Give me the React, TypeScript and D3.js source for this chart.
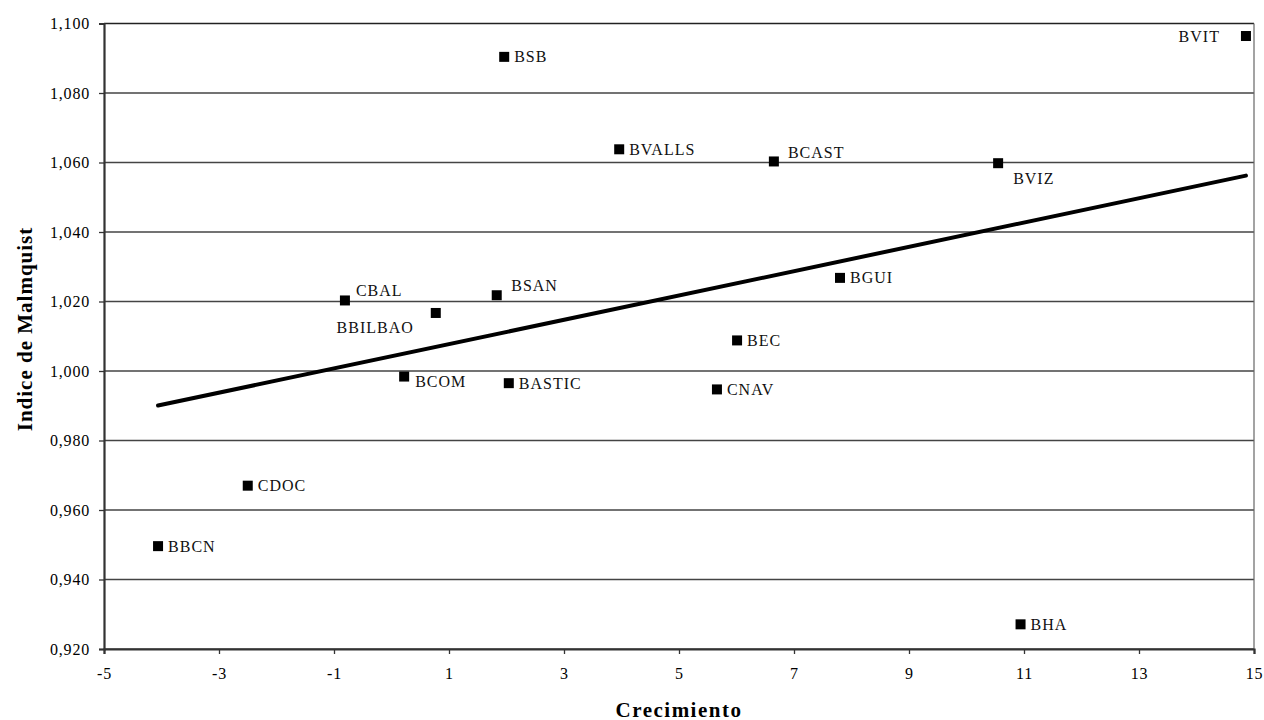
import React, { useEffect, useRef } from "react";
import * as d3 from "d3";

// bank codes, growth (x) and Malmquist index (y)
const banks = ["BVIT", "BSB", "BVALLS", "BCAST", "BVIZ", "BGUI", "CBAL", "BBILBAO", "BSAN", "BEC", "BCOM", "BASTIC", "CNAV", "CDOC", "BBCN", "BHA"];
const crecimiento = [14.86, 1.96, 3.96, 6.65, 10.55, 7.8, -0.81, 0.77, 1.83, 6.01, 0.22, 2.04, 5.66, -2.5, -4.06, 10.94];
const malmquist = [1.0964, 1.0904, 1.0638, 1.0603, 1.0598, 1.0268, 1.0203, 1.0167, 1.0218, 1.0088, 0.9984, 0.9965, 0.9947, 0.967, 0.9496, 0.9271];

const xTicks = [-5, -3, -1, 1, 3, 5, 7, 9, 11, 13, 15];
const yTicks = [0.92, 0.94, 0.96, 0.98, 1.0, 1.02, 1.04, 1.06, 1.08, 1.1];

const xTitle = "Crecimiento";
const yTitle = "Indice de Malmquist";

// where each label sits relative to its marker (default: right, centred)
const labelPlace: Record<string, { dx: number; dy: number; anchor?: string }> = {
  BVIT: { dx: -26, dy: 5.5, anchor: "end" },
  BCAST: { dx: 14, dy: -3.5 },
  BVIZ: { dx: 15, dy: 21 },
  CBAL: { dx: 11, dy: -4 },
  BBILBAO: { dx: -22, dy: 20.5, anchor: "end" },
  BSAN: { dx: 14.5, dy: -4 },
  BCOM: { dx: 11, dy: 10 },
};

const W = 1264, H = 720;
const margin = { top: 23.5, right: 10, bottom: 71, left: 104 };

export default function App() {
  const ref = useRef<SVGSVGElement>(null);

  useEffect(() => {
    const w = W - margin.left - margin.right;
    const h = H - margin.top - margin.bottom;
    const svg = d3.select(ref.current);
    svg.selectAll("*").remove();
    const g = svg.append("g").attr("transform", `translate(${margin.left},${margin.top})`);

    const x = d3.scaleLinear().domain([-5, 15]).range([0, w]);
    const y = d3.scaleLinear().domain([0.92, 1.1]).range([h, 0]);

    const locale = d3.formatLocale({ decimal: ",", thousands: ".", grouping: [3], currency: ["", "€"] });
    const fmtY = locale.format(".3f");

    const font = "'Liberation Serif', 'Times New Roman', serif";

    // grid lines
    g.selectAll(".grid")
      .data(yTicks)
      .join("line")
      .attr("x1", 0)
      .attr("x2", w)
      .attr("y1", (d) => y(d))
      .attr("y2", (d) => y(d))
      .attr("stroke", (d) => (d === 1.1 ? "#222" : "#444"))
      .attr("stroke-width", 1.3);

    // right border
    g.append("line")
      .attr("x1", w).attr("x2", w)
      .attr("y1", 0).attr("y2", h)
      .attr("stroke", "#666").attr("stroke-width", 1.2);

    // axes
    const yAxis = g.append("g").call(d3.axisLeft(y).tickValues(yTicks).tickSize(5).tickPadding(9).tickFormat((d) => fmtY(d as number)));
    const xAxis = g.append("g").attr("transform", `translate(0,${h})`)
      .call(d3.axisBottom(x).tickValues(xTicks).tickSize(5).tickPadding(14).tickFormat((d) => String(d)));

    [yAxis, xAxis].forEach((a) => {
      a.select(".domain").attr("stroke", "#333").attr("stroke-width", 2.2);
      a.selectAll(".tick line").attr("stroke", "#333").attr("stroke-width", 1.3);
      a.selectAll(".tick text")
        .attr("fill", "#000")
        .style("font-family", font)
        .style("font-size", "16px")
        .style("letter-spacing", "0.8px");
    });

    // trend line (least squares over the points)
    const mx = d3.mean(crecimiento) as number;
    const my = d3.mean(malmquist) as number;
    const sxy = d3.sum(crecimiento, (v, i) => (v - mx) * (malmquist[i] - my));
    const sxx = d3.sum(crecimiento, (v) => (v - mx) * (v - mx));
    const slope = sxy / sxx;
    const ext = d3.extent(crecimiento) as [number, number];
    const trend = ext.map((v) => [v, my + slope * (v - mx)] as [number, number]);

    g.append("path")
      .attr("d", d3.line<[number, number]>().x((d) => x(d[0])).y((d) => y(d[1]))(trend))
      .attr("fill", "none")
      .attr("stroke", "#000")
      .attr("stroke-width", 4)
      .attr("stroke-linecap", "round");

    // markers
    const pts = banks.map((b, i) => ({ b, x: crecimiento[i], y: malmquist[i] }));
    g.selectAll(".pt")
      .data(pts)
      .join("rect")
      .attr("x", (d) => x(d.x) - 5)
      .attr("y", (d) => y(d.y) - 5)
      .attr("width", 10)
      .attr("height", 10)
      .attr("fill", "#000");

    // labels
    g.selectAll(".lbl")
      .data(pts)
      .join("text")
      .attr("x", (d) => x(d.x) + (labelPlace[d.b]?.dx ?? 10))
      .attr("y", (d) => y(d.y) + (labelPlace[d.b]?.dy ?? 5.4))
      .attr("text-anchor", (d) => labelPlace[d.b]?.anchor ?? "start")
      .style("font-family", font)
      .style("font-size", "16px")
      .style("letter-spacing", "1px")
      .attr("fill", "#111")
      .text((d) => d.b);

    // axis titles
    g.append("text")
      .attr("x", w / 2)
      .attr("y", h + 67.5)
      .attr("text-anchor", "middle")
      .style("font-family", font)
      .style("font-size", "21px")
      .style("font-weight", "bold")
      .style("letter-spacing", "1.5px")
      .text(xTitle);

    g.append("text")
      .attr("transform", "rotate(-90)")
      .attr("x", -(329 - margin.top))
      .attr("y", 32 - margin.left)
      .attr("text-anchor", "middle")
      .style("font-family", font)
      .style("font-size", "21px")
      .style("font-weight", "bold")
      .style("letter-spacing", "1px")
      .text(yTitle);
  }, []);

  return (
    <svg
      ref={ref}
      width={W}
      height={H}
      style={{ position: "absolute", left: 0, top: 0, background: "#fff" }}
    />
  );
}
